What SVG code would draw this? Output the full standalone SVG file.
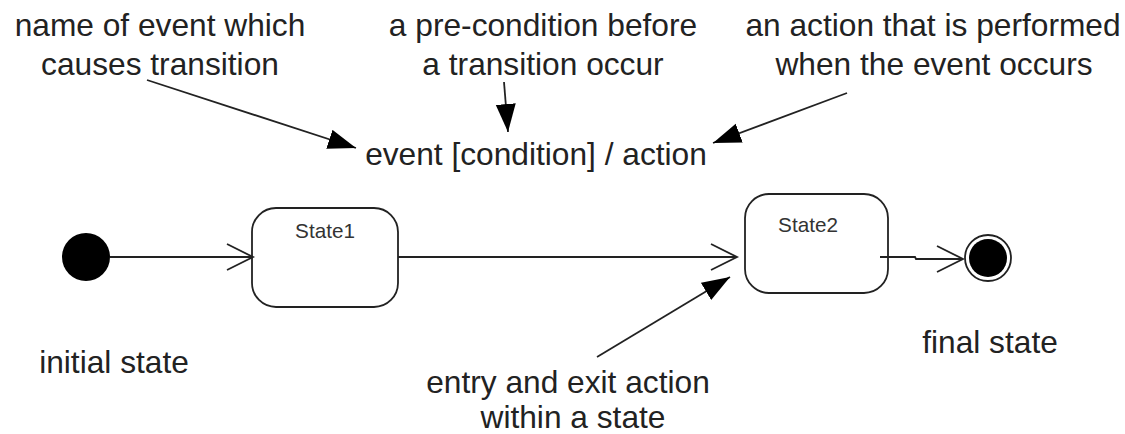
<svg xmlns="http://www.w3.org/2000/svg" width="1125" height="434" viewBox="0 0 1125 434">
<style>
.t{font-family:"Liberation Sans",Arial,sans-serif;font-size:31.7px;fill:#222;text-anchor:middle}
.s{font-family:"Liberation Sans",Arial,sans-serif;font-size:20.7px;fill:#333;text-anchor:middle}
.ln{stroke:#222;stroke-width:1.8;fill:none}
.st{stroke:#222;stroke-width:1.8;fill:#fff}
</style>
<defs>
<marker id="fh" markerUnits="userSpaceOnUse" markerWidth="30" markerHeight="22" refX="28" refY="10" orient="auto">
<path d="M0,0 L28,10 L0,20 Z" fill="#000"/>
</marker>
<marker id="oh" markerUnits="userSpaceOnUse" markerWidth="30" markerHeight="30" refX="27" refY="14" orient="auto">
<path d="M1,1 L27,14 L1,27" fill="none" stroke="#222" stroke-width="1.8"/>
</marker>
</defs>
<rect width="1125" height="434" fill="#fff"/>
<g id="labels">
<text class="t" x="160" y="36">name of event which</text>
<text class="t" x="160" y="75">causes transition</text>
<text class="t" x="543" y="36">a pre-condition before</text>
<text class="t" x="543" y="75">a transition occur</text>
<text class="t" x="933" y="36">an action that is performed</text>
<text class="t" x="934" y="75">when the event occurs</text>
<text class="t" x="536" y="165">event [condition] / action</text>
<text class="t" x="114" y="373">initial state</text>
<text class="t" x="990" y="353">final state</text>
<text class="t" x="568" y="393">entry and exit action</text>
<text class="t" x="573" y="428">within a state</text>
</g>
<g id="initial"><circle cx="86" cy="257" r="24" fill="#000"/></g>
<g id="state1"><rect class="st" x="252" y="208" width="146" height="99" rx="24"/><text class="s" x="325" y="238">State1</text></g>
<g id="state2"><rect class="st" x="745" y="194" width="143" height="99" rx="24"/><text class="s" x="808" y="232">State2</text></g>
<g id="final"><circle cx="988" cy="258" r="23" fill="#fff" stroke="#222" stroke-width="1.8"/><circle cx="988" cy="258" r="19" fill="#000"/></g>
<g id="connectors">
<line class="ln" x1="110" y1="257" x2="253" y2="257" marker-end="url(#oh)"/>
<line class="ln" x1="398" y1="257" x2="737" y2="257" marker-end="url(#oh)"/>
<polyline class="ln" points="880,257 915,257 916,259 963,259" marker-end="url(#oh)"/>
<line class="ln" x1="147" y1="80" x2="356" y2="148" marker-end="url(#fh)"/>
<line class="ln" x1="504" y1="82" x2="508" y2="132" marker-end="url(#fh)"/>
<line class="ln" x1="847" y1="93" x2="713" y2="143" marker-end="url(#fh)"/>
<line class="ln" x1="597" y1="357" x2="730" y2="277" marker-end="url(#fh)"/>
</g>
</svg>
